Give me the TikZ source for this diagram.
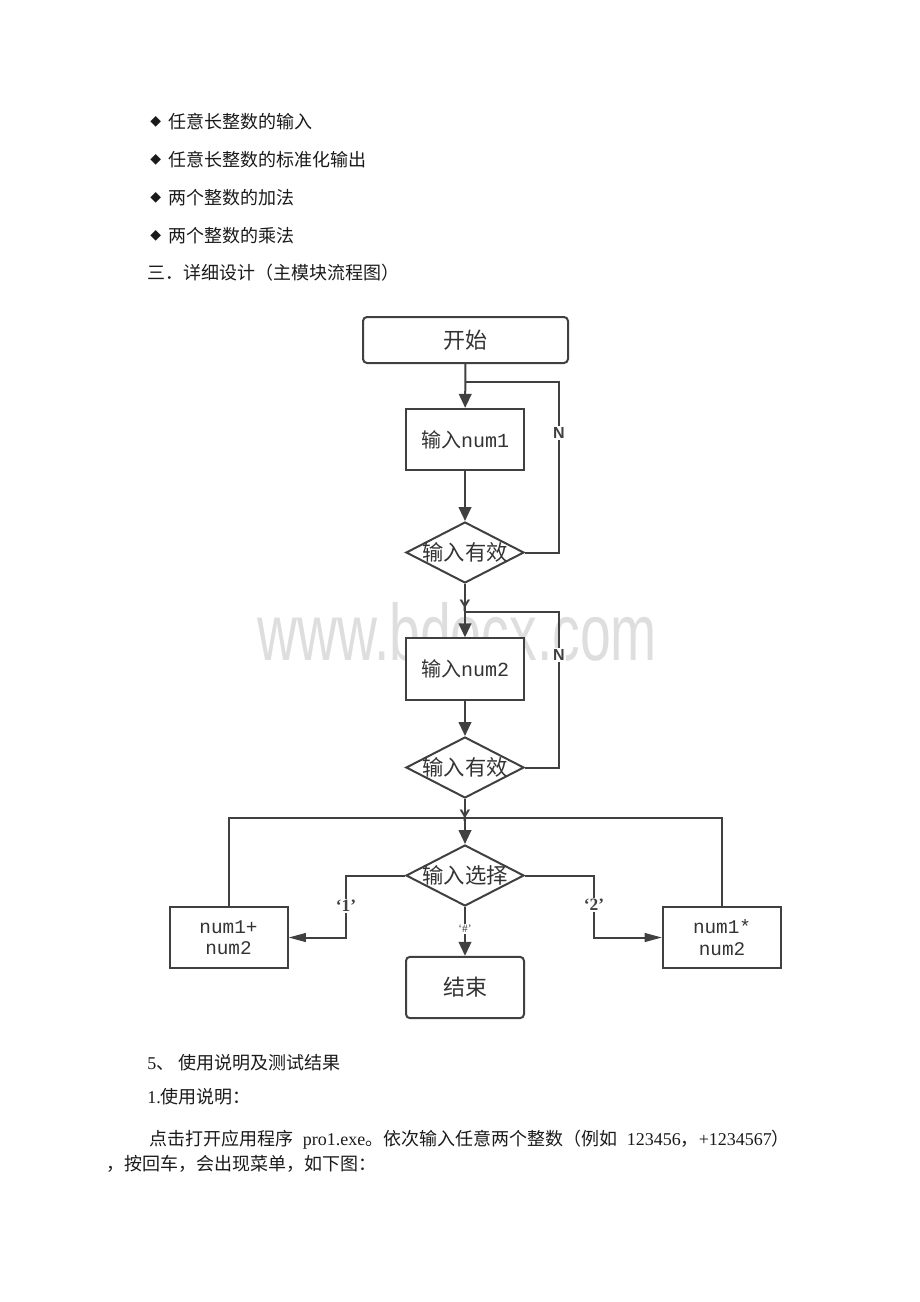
\documentclass[tikz,border=0pt]{standalone}
\usepackage{fontspec}
\usepackage{graphicx}
\setmainfont{Liberation Serif}
\newfontfamily\cjk{Noto Sans CJK SC}
\newfontfamily\monof{Liberation Mono}
\newfontfamily\sansf{Liberation Sans}
\newfontfamily\dejavu{DejaVu Sans}
\usetikzlibrary{shapes.geometric,arrows.meta}
\definecolor{ln}{HTML}{404040}
\definecolor{tx}{HTML}{333333}
\definecolor{wm}{HTML}{DEDEDE}
\definecolor{bodytx}{HTML}{1A1A1A}
\begin{document}
\begin{tikzpicture}[x=0.75pt,y=-0.75pt,
  body/.style={anchor=west,inner sep=0pt,text=bodytx,font=\cjk\fontsize{13.5}{16}\selectfont},
  bullet/.style={anchor=west,inner sep=0pt,text=bodytx,font=\dejavu\fontsize{10.5}{12}\selectfont},
  proc/.style={draw=ln,line width=1.5pt,fill=white,minimum width=88.5pt,minimum height=46pt,inner sep=0pt,text=tx,align=center},
  term/.style={proc,rounded corners=3pt},
  dec/.style={draw=ln,line width=1.5pt,fill=white,diamond,minimum width=88.5pt,minimum height=45.75pt,inner sep=0pt},
  dtext/.style={inner sep=0pt,text=tx,font=\cjk\fontsize{16}{18}\selectfont},
  line/.style={draw=ln,line width=1.5pt},
  arr/.style={line,-{Triangle[length=10.5pt,width=9.5pt]}},
  harr/.style={line,-{Triangle[length=13pt,width=6.5pt]}},
  nlab/.style={inner sep=1pt,fill=white,text=ln,font=\sansf\bfseries\fontsize{12}{13}\selectfont},
  ylab/.style={inner sep=0pt,text=ln,font=\sansf\bfseries\fontsize{12.5}{13}\selectfont},
  qlab/.style={inner sep=1pt,fill=white,text=ln,font=\bfseries\fontsize{13}{14}\selectfont}
]
\useasboundingbox (0,0) rectangle (920,1302);

% watermark
\node[anchor=base west,inner sep=0pt,text=wm,font=\sansf\fontsize{41.5}{42}\selectfont] (wmk) at (257,660) {\scalebox{1}[1.45]{www.bdocx.com}};

% top text
\node[bullet] (bu1) at (150,122) {◆};
\node[body] (tl1) at (168,122) {任意长整数的输入};
\node[bullet] (bu2) at (150,160) {◆};
\node[body] (tl2) at (168,160) {任意长整数的标准化输出};
\node[bullet] (bu3) at (150,198) {◆};
\node[body] (tl3) at (168,198) {两个整数的加法};
\node[bullet] (bu4) at (150,236) {◆};
\node[body] (tl4) at (168,236) {两个整数的乘法};
\node[body] (head) at (147,273) {三．详细设计（主模块流程图）};

% flowchart nodes
\node[term,minimum width=153.75pt,minimum height=34.5pt,font=\cjk\fontsize{16.5}{18}\selectfont] (start) at (465.5,340) {开始};
\node[proc,font=\fontsize{15}{17}\selectfont] (b1) at (465,439.5) {{\cjk 输入}{\monof num1}};
\node[dec] (d1) at (465,552.5) {};
\node[dtext] (d1t) at (d1) {输入有效};
\node[proc,font=\fontsize{15}{17}\selectfont] (b2) at (465,669) {{\cjk 输入}{\monof num2}};
\node[dec] (d2) at (465,767.5) {};
\node[dtext] (d2t) at (d2) {输入有效};
\node[dec] (d3) at (465,875.5) {};
\node[dtext] (d3t) at (d3) {输入选择};
\node[proc,font=\monof\fontsize{14.5}{17}\selectfont] (b3) at (228.5,937.5) {num1+\\[-1pt]num2};
\node[proc,font=\monof\fontsize{14.5}{17}\selectfont] (b4) at (722,937.5) {num1*\\[-1pt]num2};
\node[term,font=\cjk\fontsize{16.5}{18}\selectfont] (endn) at (465,987.5) {结束};

% connectors
\coordinate (j1) at (465,382);
\coordinate (n1) at (559,382);
\coordinate (j2) at (465,612);
\coordinate (n2) at (559,612);
\coordinate (t3) at (228.5,818);
\coordinate (t4) at (722,818);
\coordinate (c1) at (346,937.5);
\coordinate (c2) at (594,937.5);

\draw[arr] (start) -- (b1);
\draw[line] (d1.east) -| (n1) -- (j1);
\draw[arr] (b1) -- (d1);
\draw[arr] (d1) -- (b2);
\draw[line] (d2.east) -| (n2) -- (j2);
\draw[arr] (b2) -- (d2);
\draw[arr] (d2) -- (d3);
\draw[line] (b3.north) -- (t3) -- (t4) -- (b4.north);
\draw[harr] (d3.west) -| (c1) -- (b3.east);
\draw[harr] (d3.east) -| (c2) -- (b4.west);
\draw[arr] (d3) -- (endn);

% labels
\node[nlab] (lN1) at (559,433) {N};
\node[nlab] (lN2) at (559,655) {N};
\node[ylab] (lY1) at (465,606) {Y};
\node[ylab] (lY2) at (465,816) {Y};
\node[qlab] (q1) at (346,906) {‘1’};
\node[qlab] (q2) at (594,905) {‘2’};
\node[inner sep=1pt,fill=white,text=ln,font=\fontsize{8.5}{9}\selectfont] (qh) at (465,929) {‘\#’};

% bottom text
\node[body] (s5) at (147,1063) {{\rmfamily 5}、 使用说明及测试结果};
\node[body] (s51) at (147,1097) {{\rmfamily 1.}使用说明：};
\node[body] (p1) at (149,1140) {\makebox[480.5pt][s]{点击打开应用程序 {\rmfamily pro1.exe}。依次输入任意两个整数（例如 {\rmfamily 123456}，{\rmfamily +1234567}）}};
\node[body] (p2) at (106,1164) {，按回车，会出现菜单，如下图：};
\end{tikzpicture}
\end{document}
